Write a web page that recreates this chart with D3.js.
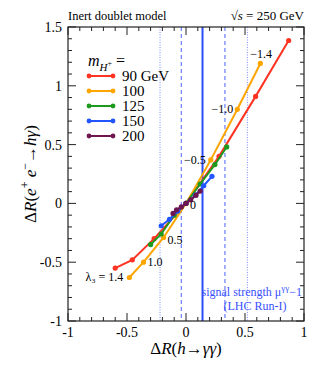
<!DOCTYPE html>
<html>
<head>
<meta charset="utf-8">
<script src="https://cdn.jsdelivr.net/npm/d3@7"></script>
<style>
body { margin: 0; background: #fff; }
</style>
</head>
<body>
<div id="chart"></div>
<script>
// lambda_3 values along each curve
var lambdas = [1.4, 1.0, 0.5, 0, -0.5, -1.0, -1.4];
var masses = ["90 GeV", "100", "125", "150", "200"];
var colors = ["#ff3322", "#ffa500", "#1e9a1e", "#2255ff", "#6e1650"];

// dR(h->gg) and dR(ee->hg) per mass
var xs90 = [-0.60, -0.455, -0.27, 0, 0.28, 0.59, 0.87];
var ys90 = [-0.55, -0.48, -0.30, 0, 0.40, 0.91, 1.385];
var xs100 = [-0.48, -0.36, -0.19, 0, 0.21, 0.435, 0.63];
var ys100 = [-0.63, -0.50, -0.29, 0, 0.37, 0.80, 1.19];
var xs125 = [-0.30, -0.21, -0.10, 0, 0.12, 0.245, 0.345];
var ys125 = [-0.35, -0.26, -0.10, 0, 0.165, 0.33, 0.48];
var xs150 = [-0.21, -0.14, -0.07, 0, 0.08, 0.15, 0.22];
var ys150 = [-0.19, -0.135, -0.065, 0, 0.07, 0.15, 0.23];
var xs200 = [-0.11, -0.08, -0.04, 0, 0.04, 0.085, 0.12];
var ys200 = [-0.085, -0.055, -0.03, 0, 0.03, 0.07, 0.105];

// mu_gg - 1 from LHC Run-I: central, 1 sigma, 2 sigma
var muCentral = 0.14;
var muOneSigma = [-0.04, 0.33];
var muTwoSigma = [-0.22, 0.52];

var xTicks = [-1, -0.5, 0, 0.5, 1];
var yTicks = [-1, -0.5, 0, 0.5, 1, 1.5];
var lambdaLabels = ["\u03bb\u2083 = 1.4", "1.0", "0.5", "0", "\u22120.5", "\u22121.0", "\u22121.4"];

var W = 332, H = 367;
var pL = 68, pR = 304, pT = 27, pB = 321;

var svg = d3.select("#chart").append("svg").attr("width", W).attr("height", H)
    .attr("font-family", "'Liberation Serif', 'Times New Roman', Times, serif");

var x = d3.scaleLinear().domain([-1, 1]).range([pL, pR]);
var y = d3.scaleLinear().domain([-1, 1.5]).range([pB, pT]);

var series = [
    {xs: xs90, ys: ys90}, {xs: xs100, ys: ys100}, {xs: xs125, ys: ys125},
    {xs: xs150, ys: ys150}, {xs: xs200, ys: ys200}
];

// band lines
var band = svg.append("g");
band.selectAll("line.dot").data(muTwoSigma).enter().append("line")
    .attr("x1", d => x(d)).attr("x2", d => x(d)).attr("y1", pT).attr("y2", pB)
    .attr("stroke", "#7d8cff").attr("stroke-width", 1).attr("stroke-dasharray", "1,1.5");
band.selectAll("line.dash").data(muOneSigma).enter().append("line")
    .attr("x1", d => x(d)).attr("x2", d => x(d)).attr("y1", pT).attr("y2", pB)
    .attr("stroke", "#4c62ff").attr("stroke-width", 1).attr("stroke-dasharray", "4,3");
band.append("line")
    .attr("x1", x(muCentral)).attr("x2", x(muCentral)).attr("y1", pT).attr("y2", pB)
    .attr("stroke", "#2a4dff").attr("stroke-width", 2);

// curves
var line = d3.line().x(d => x(d[0])).y(d => y(d[1]));
series.forEach(function(s, i){
    var pts = s.xs.map((v, k) => [v, s.ys[k]]);
    var g = svg.append("g");
    g.append("path").datum(pts).attr("d", line)
        .attr("fill", "none").attr("stroke", colors[i]).attr("stroke-width", 2);
    g.selectAll("circle").data(pts).enter().append("circle")
        .attr("cx", d => x(d[0])).attr("cy", d => y(d[1])).attr("r", 2.6)
        .attr("fill", colors[i]);
});

// lambda labels next to the 100 GeV curve
var lab = [[-6, 4], [4, 4], [4, 6], [4, 6], [-5, 4], [-4, 4], [-10, -5]];
var anchors = ["end", "start", "start", "start", "end", "end", "start"];
lambdaLabels.forEach(function(t, k){
    svg.append("text")
        .attr("x", x(xs100[k]) + lab[k][0]).attr("y", y(ys100[k]) + lab[k][1])
        .attr("text-anchor", anchors[k]).attr("font-size", 12).text(t);
});

// frame and ticks
svg.append("rect").attr("x", pL).attr("y", pT).attr("width", pR - pL).attr("height", pB - pT)
    .attr("fill", "none").attr("stroke", "#222").attr("stroke-width", 1.2);

var ticks = svg.append("g").attr("stroke", "#222").attr("stroke-width", 1);
d3.range(-1, 1.001, 0.1).forEach(function(v){
    var major = Math.abs(v * 2 - Math.round(v * 2)) < 1e-6;
    var len = major ? 8 : 4;
    ticks.append("line").attr("x1", x(v)).attr("x2", x(v)).attr("y1", pB).attr("y2", pB - len);
    ticks.append("line").attr("x1", x(v)).attr("x2", x(v)).attr("y1", pT).attr("y2", pT + len);
});
d3.range(-1, 1.501, 0.1).forEach(function(v){
    var major = Math.abs(v * 2 - Math.round(v * 2)) < 1e-6;
    var len = major ? 8 : 4;
    ticks.append("line").attr("y1", y(v)).attr("y2", y(v)).attr("x1", pL).attr("x2", pL + len);
    ticks.append("line").attr("y1", y(v)).attr("y2", y(v)).attr("x1", pR).attr("x2", pR - len);
});

svg.selectAll("text.xt").data(xTicks).enter().append("text")
    .attr("x", d => x(d)).attr("y", pB + 16).attr("text-anchor", "middle")
    .attr("font-size", 14).text(d => String(d));
svg.selectAll("text.yt").data(yTicks).enter().append("text")
    .attr("x", pL - 6).attr("y", d => y(d) + 5).attr("text-anchor", "end")
    .attr("font-size", 14).text(d => String(d));

// titles
svg.append("text").attr("x", pL).attr("y", 20).attr("font-size", 12.5).text("Inert doublet model");
var rs = svg.append("text").attr("x", pR).attr("y", 20).attr("text-anchor", "end").attr("font-size", 13);
rs.append("tspan").text("\u221a");
rs.append("tspan").attr("font-style", "italic").text("s");
rs.append("tspan").text(" = 250 GeV");

var xt = svg.append("text").attr("x", (pL + pR) / 2).attr("y", 354).attr("text-anchor", "middle").attr("font-size", 17);
xt.append("tspan").text("\u0394");
xt.append("tspan").attr("font-style", "italic").text("R");
xt.append("tspan").text("(");
xt.append("tspan").attr("font-style", "italic").text("h");
xt.append("tspan").text("\u2192");
xt.append("tspan").attr("font-style", "italic").text("\u03b3\u03b3");
xt.append("tspan").text(")");

var yt = svg.append("text").attr("transform", "translate(36,174) rotate(-90)").attr("text-anchor", "middle").attr("font-size", 17);
yt.append("tspan").text("\u0394");
yt.append("tspan").attr("font-style", "italic").text("R");
yt.append("tspan").text("(");
yt.append("tspan").attr("font-style", "italic").text("e");
yt.append("tspan").attr("dy", -7).attr("font-size", 12).text("+");
yt.append("tspan").attr("dy", 7).attr("font-style", "italic").text(" e");
yt.append("tspan").attr("dy", -7).attr("font-size", 12).text("\u2212");
yt.append("tspan").attr("dy", 7).text("\u2192");
yt.append("tspan").attr("font-style", "italic").text("h\u03b3");
yt.append("tspan").text(")");

// legend
var leg = svg.append("g");
var lt = leg.append("text").attr("x", 88).attr("y", 66).attr("font-size", 16);
lt.append("tspan").attr("font-style", "italic").text("m");
lt.append("tspan").attr("dy", 5).attr("font-size", 11).attr("font-style", "italic").text("H");
lt.append("tspan").attr("dy", -5).attr("font-size", 8).text("+");
lt.append("tspan").attr("dy", 0).text(" =");
masses.forEach(function(m, i){
    var ly = 76 + i * 15;
    leg.append("line").attr("x1", 89).attr("x2", 113).attr("y1", ly).attr("y2", ly)
        .attr("stroke", colors[i]).attr("stroke-width", 2);
    leg.selectAll(null).data([89, 113]).enter().append("circle")
        .attr("cx", d => d).attr("cy", ly).attr("r", 2.4).attr("fill", colors[i]);
    leg.append("text").attr("x", 122).attr("y", ly + 5).attr("font-size", 15).text(m);
});

// signal strength note
var st = svg.append("text").attr("x", 302).attr("y", 296).attr("text-anchor", "end")
    .attr("font-size", 12).attr("fill", "#3a50ff");
st.append("tspan").text("signal strength \u03bc");
st.append("tspan").attr("dy", -5).attr("font-size", 9).text("\u03b3\u03b3");
st.append("tspan").attr("dy", 5).text("\u22121");
svg.append("text").attr("x", 255).attr("y", 310).attr("text-anchor", "middle")
    .attr("font-size", 12).attr("fill", "#3a50ff").text("(LHC Run-I)");
</script>
</body>
</html>
